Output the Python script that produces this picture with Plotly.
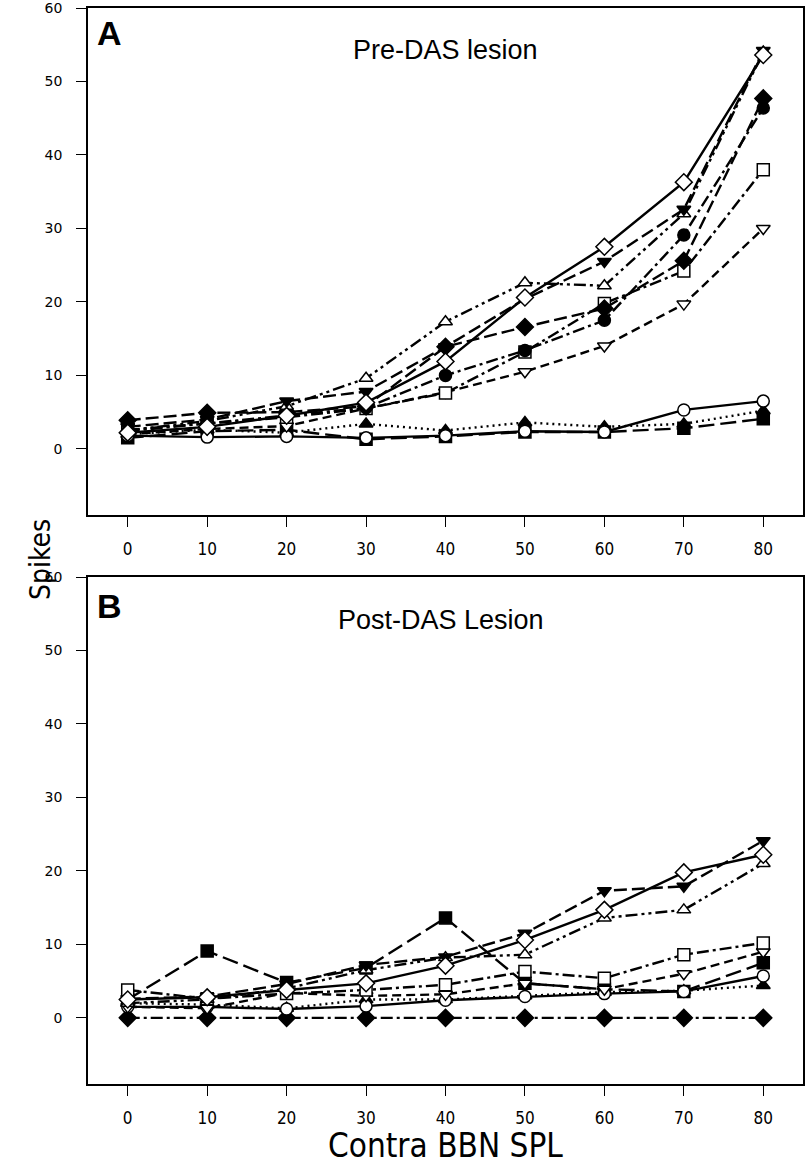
import plotly.graph_objects as go

# ---------------- data ----------------
spl = [0, 10, 20, 30, 40, 50, 60, 70, 80]

# Panel A: Pre-DAS lesion
pre_open_diamond   = [2.2, 3.0, 4.5, 6.3, 11.9, 20.6, 27.5, 36.3, 53.6]
pre_filled_tridown = [3.0, 4.0, 6.5, 7.8, 13.9, 20.4, 25.5, 32.6, 54.2]
pre_open_triup     = [2.5, 3.8, 5.8, 9.6, 17.3, 22.6, 22.2, 32.0, 54.0]
pre_filled_diamond = [3.9, 4.9, 5.0, 5.8, 13.9, 16.6, 19.1, 25.6, 47.7]
pre_filled_circle  = [2.4, 3.5, 4.6, 5.6, 10.0, 13.4, 17.5, 29.1, 46.4]
pre_open_square    = [2.6, 3.4, 4.3, 5.5, 7.6, 13.2, 19.8, 24.2, 38.0]
pre_open_tridown   = [2.0, 2.7, 3.1, 5.5, 7.7, 10.5, 14.0, 19.7, 30.0]
pre_open_circle    = [1.8, 1.6, 1.7, 1.5, 1.8, 2.4, 2.3, 5.3, 6.5]
pre_filled_triup   = [2.0, 2.6, 2.2, 3.4, 2.5, 3.6, 3.0, 3.4, 5.2]
pre_filled_square  = [1.5, 2.4, 2.6, 1.3, 1.7, 2.3, 2.3, 2.8, 4.1]

# Panel B: Post-DAS lesion
post_open_diamond   = [2.5, 2.8, 3.8, 4.7, 7.1, 10.6, 14.7, 19.8, 22.2]
post_filled_tridown = [2.6, 2.9, 4.6, 7.2, 8.3, 11.5, 17.3, 17.9, 24.1]
post_open_triup     = [2.0, 2.5, 4.0, 6.5, 8.2, 8.6, 13.6, 14.7, 21.0]
post_filled_diamond = [0, 0, 0, 0, 0, 0, 0, 0, 0]
post_open_square    = [3.8, 2.6, 3.3, 3.8, 4.5, 6.3, 5.4, 8.6, 10.2]
post_open_tridown   = [1.5, 1.3, 3.4, 3.0, 3.2, 4.7, 3.9, 6.0, 9.0]
post_open_circle    = [1.5, 1.5, 1.2, 1.6, 2.4, 2.9, 3.3, 3.6, 5.7]
post_filled_triup   = [2.0, 1.8, 1.3, 2.5, 2.5, 3.0, 3.5, 3.7, 4.4]
post_filled_square  = [2.5, 9.1, 4.8, 6.8, 13.6, 4.7, 3.9, 3.6, 7.5]

x_ticks = [0, 10, 20, 30, 40, 50, 60, 70, 80]
y_ticks = [0, 10, 20, 30, 40, 50, 60]

# ---------------- styles ----------------
LONGDASH = "13px,5px"
DASH = "9px,5px"
DASHDOT = "12px,4px,3px,4px"
DASHDOTDOT = "12px,4px,3px,4px,3px,4px"
DOT = "2px,4px"
LONGDASH2 = "16px,6px"

pre_series = [
    (pre_filled_square,  "square",        "black", LONGDASH2),
    (pre_filled_triup,   "triangle-up",   "black", DOT),
    (pre_open_circle,    "circle",        "white", "solid"),
    (pre_open_tridown,   "triangle-down", "white", DASH),
    (pre_open_square,    "square",        "white", DASHDOT),
    (pre_filled_circle,  "circle",        "black", DASHDOT),
    (pre_filled_diamond, "diamond",       "black", LONGDASH),
    (pre_open_triup,     "triangle-up",   "white", DASHDOTDOT),
    (pre_filled_tridown, "triangle-down", "black", LONGDASH),
    (pre_open_diamond,   "diamond",       "white", "solid"),
]
post_series = [
    (post_filled_square,  "square",        "black", LONGDASH2),
    (post_filled_diamond, "diamond",       "black", DASHDOT),
    (post_filled_triup,   "triangle-up",   "black", DOT),
    (post_open_circle,    "circle",        "white", "solid"),
    (post_open_tridown,   "triangle-down", "white", DASH),
    (post_open_square,    "square",        "white", DASHDOT),
    (post_open_triup,     "triangle-up",   "white", DASHDOTDOT),
    (post_filled_tridown, "triangle-down", "black", LONGDASH),
    (post_open_diamond,   "diamond",       "white", "solid"),
]

fig = go.Figure()

def add(series, xa, ya):
    for vals, sym, fill, dash in series:
        size = 12 if sym != "diamond" else 13
        fig.add_trace(go.Scatter(
            x=spl, y=vals, mode="lines+markers", xaxis=xa, yaxis=ya,
            line=dict(color="black", width=2.4, dash=dash),
            marker=dict(symbol=sym, size=size, color=fill,
                        line=dict(color="black", width=1.5)),
            showlegend=False, hoverinfo="skip", cliponaxis=False))

add(pre_series, "x", "y")
add(post_series, "x2", "y2")

W, H = 806, 1167
ML, MR, MT, MB = 88, 3, 8, 83
PW = W - ML - MR
PH = H - MT - MB
top_a, bot_a = 8, 515
top_b, bot_b = 577, 1084

def py(p):
    return (H - MB - p) / PH

def px(p):
    return (p - ML) / PW

axis_common = dict(
    showline=True, linecolor="black", linewidth=1.5, mirror=True,
    ticks="outside", ticklen=10, tickwidth=1.3, tickcolor="black",
    showgrid=False, zeroline=False, automargin=False, ticklabeloverflow="allow",
)
xfont = dict(family="Liberation Sans Narrow, DejaVu Sans Condensed, Arial Narrow, sans-serif",
             size=17, color="black")
yfont = dict(family="DejaVu Sans, Liberation Sans, Arial, sans-serif", size=14, color="black")

fig.update_layout(
    width=W, height=H,
    margin=dict(l=ML, r=MR, t=MT, b=MB, autoexpand=False),
    paper_bgcolor="white", plot_bgcolor="white",
    xaxis=dict(domain=[0, 1], range=[-5, 85], tickvals=x_ticks, anchor="y",
               tickfont=xfont, ticklabelstandoff=8, **axis_common),
    yaxis=dict(domain=[py(bot_a), py(top_a)], range=[-9, 60], tickvals=y_ticks,
               anchor="x", tickfont=yfont, ticklabelstandoff=11, **axis_common),
    xaxis2=dict(domain=[0, 1], range=[-5, 85], tickvals=x_ticks, anchor="y2",
                tickfont=xfont, ticklabelstandoff=8, **axis_common),
    yaxis2=dict(domain=[py(bot_b), py(top_b)], range=[-9, 60], tickvals=y_ticks,
                anchor="x2", tickfont=yfont, ticklabelstandoff=11, **axis_common),
)

def ann(text, xp, yp, size, bold=False, family="Liberation Sans, Arial, sans-serif", angle=0):
    fig.add_annotation(text=("<b>%s</b>" % text) if bold else text,
                       x=px(xp), y=py(yp), xref="paper", yref="paper",
                       showarrow=False, xanchor="center", yanchor="middle",
                       textangle=angle, borderpad=0,
                       font=dict(family=family, size=size, color="black"))

ann("A", 109, 33, 34, bold=True)
ann("B", 109, 606, 34, bold=True)
ann("Pre-DAS lesion", 445, 50, 27)
ann("Post-DAS Lesion", 441, 620, 27)
ann("Spikes", 40, 560, 28, family="Liberation Sans Narrow, DejaVu Sans Condensed, sans-serif", angle=-90)
ann("Contra BBN SPL", 445, 1145, 33, family="Liberation Sans Narrow, DejaVu Sans Condensed, sans-serif")

fig.write_html("out.html", config={"displayModeBar": False},
               post_script="document.body.style.margin='0px';document.body.style.padding='0px';")
